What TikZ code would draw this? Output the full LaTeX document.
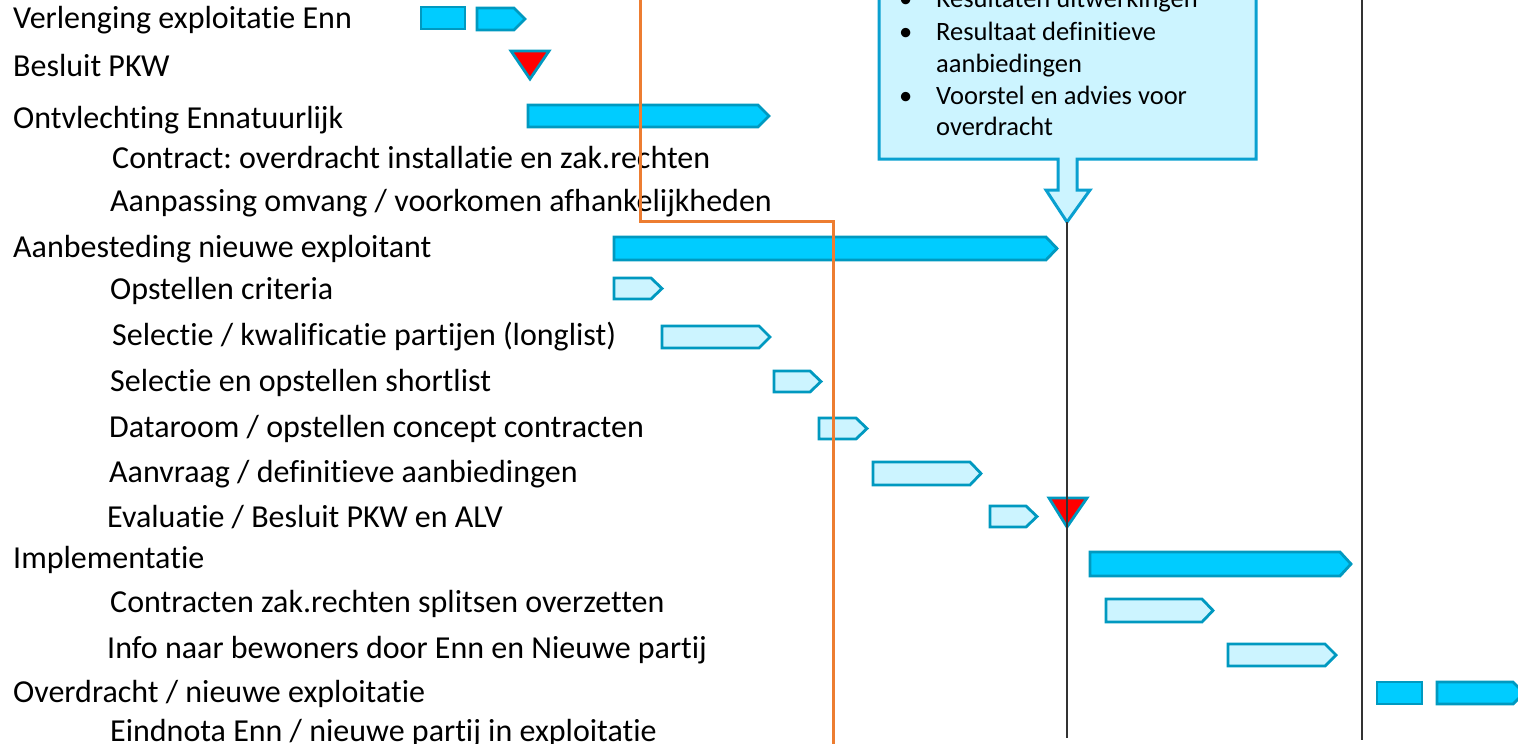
\documentclass[tikz,border=0pt]{standalone}
\usepackage{fontspec}
\setmainfont[RawFeature=-liga]{Carlito}
\definecolor{bardark}{HTML}{00CCFF}
\definecolor{barlight}{HTML}{CCF4FF}
\definecolor{barline}{HTML}{0099C0}
\definecolor{calloutline}{HTML}{0AA0D0}
\definecolor{orangeline}{HTML}{ED7D31}
\definecolor{milestone}{HTML}{FF0000}
\tikzset{
  darkbar/.style={fill=bardark, draw=barline, line width=2.8pt, line join=miter},
  lightbar/.style={fill=barlight, draw=barline, line width=2.8pt, line join=miter},
  mstone/.style={fill=milestone, draw=barline, line width=2.8pt, line join=miter},
  lbl/.style={anchor=base west, inner sep=0pt, font=\fontsize{32}{38}\selectfont},
  clbl/.style={anchor=base west, inner sep=0pt, font=\fontsize{26.5}{32}\selectfont},
  vline/.style={draw=black!80, line width=1.6pt},
  orangepath/.style={draw=orangeline, line width=3pt}
}
% pentagon bar: style, x1, x2, y1, y2
\newcommand\pbar[5]{\path[#1] (#2,#4) -- ({#3-11},#4) -- (#3,{(#4+#5)/2}) -- ({#3-11},#5) -- (#2,#5) -- cycle;}
\begin{document}
\frenchspacing
\begin{tikzpicture}[x=1pt,y=-1pt]
\useasboundingbox (0,0) rectangle (1518,744);
\clip (0,0) rectangle (1518,744);
\fill[white] (0,0) rectangle (1518,744);

% labels
\node[lbl] (l1) at (13,28) {Verlenging exploitatie Enn};
\node[lbl] (l2) at (13,76) {Besluit PKW};
\node[lbl] (l3) at (13,128) {Ontvlechting Ennatuurlijk};
\node[lbl] (l4) at (112,168) {Contract: overdracht installatie en zak.rechten};
\node[lbl] (l5) at (110,211) {Aanpassing omvang / voorkomen afhankelijkheden};
\node[lbl] (l6) at (13,257) {Aanbesteding nieuwe exploitant};
\node[lbl] (l7) at (110,299) {Opstellen criteria};
\node[lbl] (l8) at (112,345) {Selectie / kwalificatie partijen (longlist)};
\node[lbl] (l9) at (110,391) {Selectie en opstellen shortlist};
\node[lbl] (l10) at (109,437) {Dataroom / opstellen concept contracten};
\node[lbl] (l11) at (109,482) {Aanvraag / definitieve aanbiedingen};
\node[lbl] (l12) at (107,527) {Evaluatie / Besluit PKW en ALV};
\node[lbl] (l13) at (13,568) {Implementatie};
\node[lbl] (l14) at (110,612) {Contracten zak.rechten splitsen overzetten};
\node[lbl] (l15) at (107,658) {Info naar bewoners door Enn en Nieuwe partij};
\node[lbl] (l16) at (13,702) {Overdracht / nieuwe exploitatie};
\node[lbl] (l17) at (110,741) {Eindnota Enn / nieuwe partij in exploitatie};

% bars
\path[darkbar] (421,7) rectangle (465,29);
\pbar{darkbar}{477}{525}{8}{30}
\path[mstone] (511,51) -- (549,51) -- (530,79) -- cycle;
\pbar{darkbar}{528}{769}{105}{127}
\pbar{darkbar}{614}{1057}{237}{260}
\pbar{lightbar}{614}{662}{278}{299}
\pbar{lightbar}{662}{770}{326}{348}
\pbar{lightbar}{774}{821}{371}{392}
\pbar{lightbar}{819}{867}{418}{439}
\pbar{lightbar}{873}{981}{462}{485}
\pbar{lightbar}{990}{1037}{506}{527}
\path[mstone] (1049,498) -- (1087,498) -- (1067,527) -- cycle;
\pbar{darkbar}{1090}{1351}{552}{576}
\pbar{lightbar}{1106}{1213}{599}{622}
\pbar{lightbar}{1228}{1336}{644}{666}
\path[darkbar] (1377,682) rectangle (1422,704);
\pbar{darkbar}{1437}{1524}{682}{704}

% callout
\path[fill=barlight, draw=calloutline, line width=3pt, line join=miter]
  (879,-20) -- (879,159) -- (1058,159) -- (1058,190) -- (1046,190) -- (1067,222)
  -- (1090,190) -- (1077,190) -- (1077,159) -- (1256,159) -- (1256,-20);
\coordinate (ctip) at (1067,222);
\node[clbl] (b1) at (899,8) {•};
\node[clbl] (c1) at (936,8) {Resultaten uitwerkingen};
\node[clbl] (b2) at (899,40) {•};
\node[clbl] (c2) at (936,40) {Resultaat definitieve};
\node[clbl] (c3) at (936,72) {aanbiedingen};
\node[clbl] (b3) at (899,104) {•};
\node[clbl] (c4) at (936,104) {Voorstel en advies voor};
\node[clbl] (c5) at (936,135) {overdracht};

% vertical lines
\coordinate (v1b) at (1067,738);
\draw[vline] (ctip) -- (v1b);
\coordinate (v2t) at (1362,0);
\coordinate (v2b) at (1362,740);
\draw[vline] (v2t) -- (v2b);

% orange line
\coordinate (o1) at (640,0);
\coordinate (o2) at (640,221);
\coordinate (o3) at (833,221);
\coordinate (o4) at (833,744);
\draw[orangepath] (o1) -- (o2) -- (o3) -- (o4);
\end{tikzpicture}
\end{document}
